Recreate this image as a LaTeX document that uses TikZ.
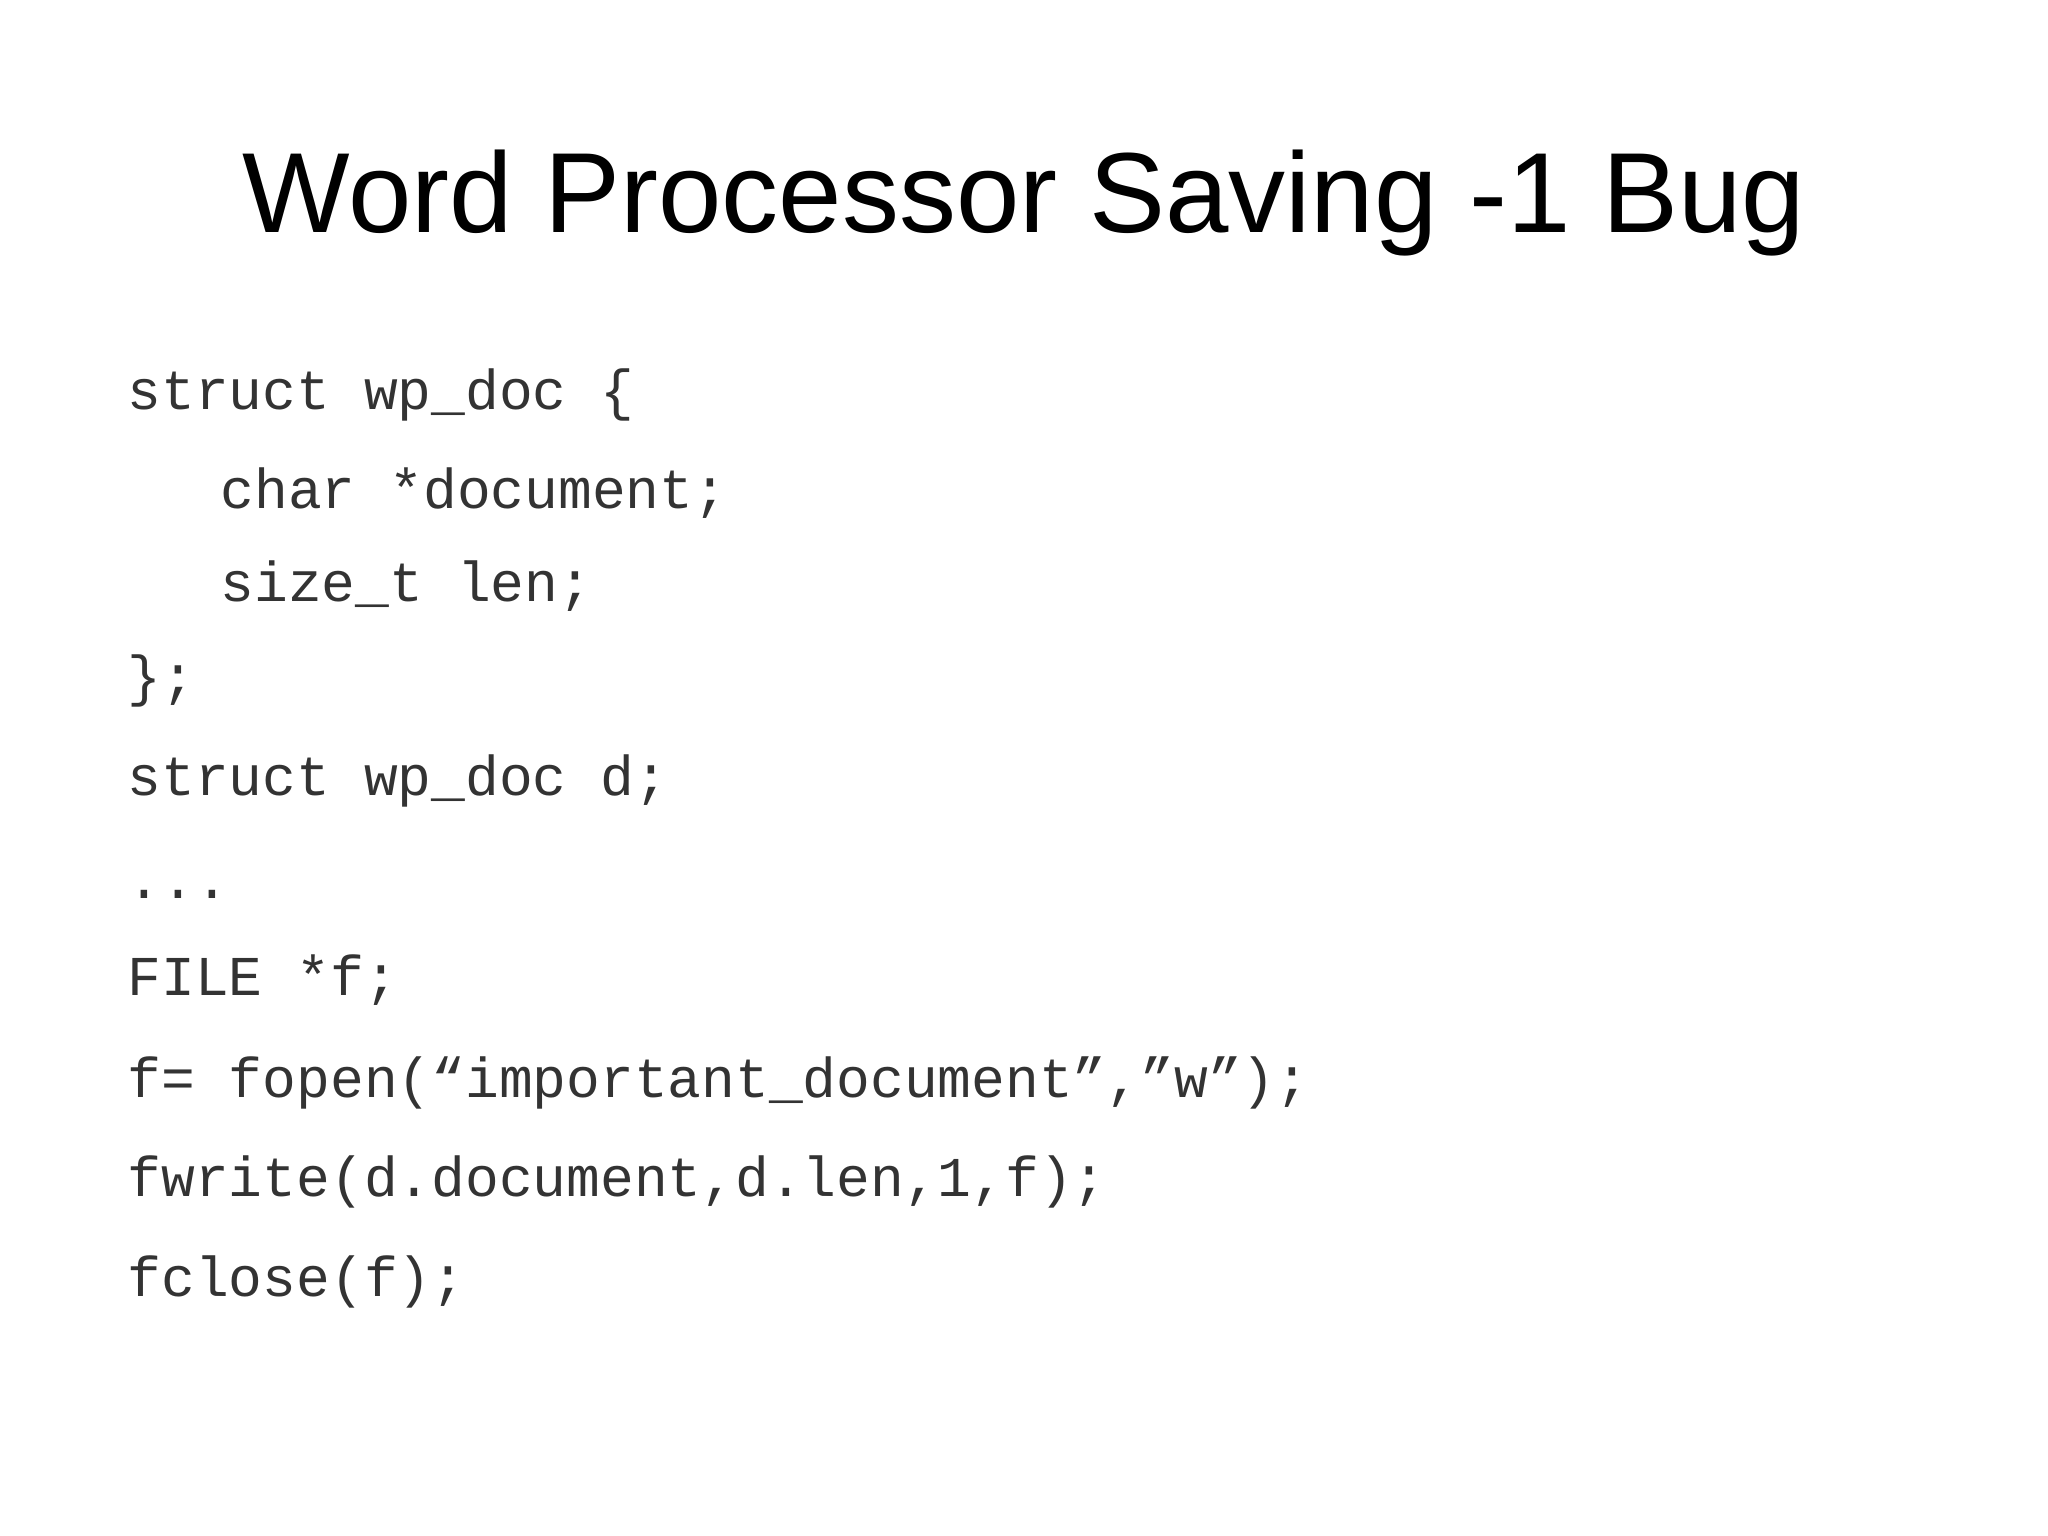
\documentclass[tikz,border=0pt]{standalone}
\usepackage{fontspec}
\setmainfont{Liberation Sans}
\setmonofont{Liberation Mono}
\begin{document}
\begin{tikzpicture}[x=0.01cm,y=-0.01cm,
  code/.style={anchor=base west,inner sep=0pt,font=\ttfamily\fontsize{16}{19}\selectfont,text=black!80}]
\useasboundingbox (0,0) rectangle (2048,1535);
\node[anchor=base,inner sep=0pt,font=\fontsize{32.4}{38}\selectfont] (title) at (1024,232) {Word Processor Saving -1 Bug};
\node[code] (l1) at (127,409) {struct wp\_doc \{};
\node[code] (l2) at (220,508) {char *document;};
\node[code] (l3) at (220,601) {size\_t len;};
\node[code] (l4) at (127,695) {\};};
\node[code] (l5) at (127,795) {struct wp\_doc d;};
\node[code] (l6) at (127,898) {...};
\node[code] (l7) at (127,995) {FILE *f;};
\node[code] (l8) at (127,1097) {f= fopen(“important\_document”,”w”);};
\node[code] (l9) at (127,1196) {fwrite(d.document,d.len,1,f);};
\node[code] (l10) at (127,1296) {fclose(f);};
\end{tikzpicture}
\end{document}
